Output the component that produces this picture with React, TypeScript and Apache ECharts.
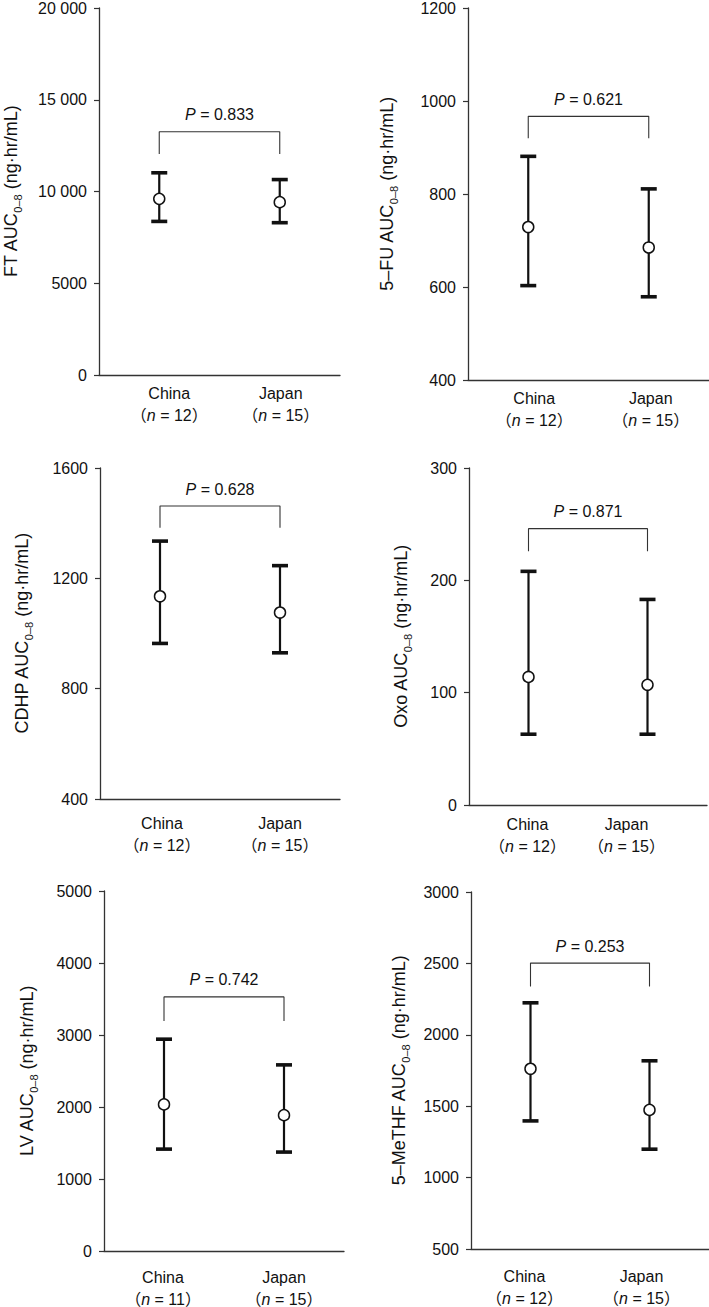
import React, { useEffect, useRef } from "react";
import * as echarts from "echarts";

// ---------- data ----------
const categories = ["China", "Japan"];
const analytes = ["FT", "5–FU", "CDHP", "Oxo", "LV", "5–MeTHF"];
const nChina = [12, 12, 12, 12, 11, 12];
const nJapan = [15, 15, 15, 15, 15, 15];
const meanChina = [9600, 729, 1135, 114, 2036, 1762];
const meanJapan = [9420, 685, 1076, 107, 1887, 1474];
const upperChina = [11020, 881, 1335, 208, 2942, 2224];
const upperJapan = [10650, 811, 1246, 183, 2585, 1818];
const lowerChina = [8370, 603, 964, 63, 1415, 1397];
const lowerJapan = [8300, 579, 930, 63, 1374, 1199];
const pValues = ["0.833", "0.621", "0.628", "0.871", "0.742", "0.253"];
const bracketTop = [13260, 967, 1462, 246, 3529, 2502];
const bracketFoot = [12050, 920, 1383, 226, 3196, 2338];
const yMin = [0, 400, 400, 0, 0, 500];
const yMax = [20000, 1200, 1600, 300, 5000, 3000];
const yInterval = [5000, 200, 400, 100, 1000, 500];

// ---------- layout ----------
const grids = [
  { left: 99, top: 7, width: 241, height: 368 },
  { left: 468, top: 7, width: 241, height: 373 },
  { left: 100, top: 468, width: 240, height: 331 },
  { left: 469, top: 468, width: 238, height: 337 },
  { left: 104, top: 891, width: 240, height: 360 },
  { left: 471, top: 892, width: 238, height: 357 },
];
const nameGaps = [79, 72, 69, 59, 68, 63];
const xLabelMargins = [7, 7, 13, 8, 15, 16];
const labelShift = [
  [10, 1],
  [6, 2],
  [2, 0],
  [-1, -21],
  [-1, 0],
  [-6, -8],
];

const FONT = '"Liberation Sans", Arial, "Noto Sans CJK JP", sans-serif';
const INK = "#111";

function fmtTick(v: number) {
  if (v >= 10000) {
    const s = String(v);
    return s.slice(0, s.length - 3) + " " + s.slice(s.length - 3);
  }
  return String(v);
}

export default function App() {
  const ref = useRef<HTMLDivElement>(null);

  useEffect(() => {
    if (!ref.current) return;
    const chart = echarts.init(ref.current, undefined, { renderer: "svg" });

    const grid: any[] = [];
    const xAxis: any[] = [];
    const yAxis: any[] = [];
    const series: any[] = [];

    for (let i = 0; i < 6; i++) {
      grid.push({ ...grids[i], containLabel: false });
      const ns = [nChina[i], nJapan[i]];
      // visible category axis (labels + axis line)
      xAxis.push({
        type: "category",
        gridIndex: i,
        data: categories.map((c, k) => {
          const s = labelShift[i][k];
          const pad = s >= 0 ? [0, 0, 0, 2 * s] : [0, -2 * s, 0, 0];
          return { value: c, textStyle: { padding: pad } };
        }),
        boundaryGap: true,
        axisTick: { show: false },
        axisLine: { onZero: false, lineStyle: { color: "#333", width: 1.3 } },
        axisLabel: {
          margin: xLabelMargins[i],
          interval: 0,
          formatter: (v: string, idx: number) =>
            `{a|${v}}\n{b|（}{i|n}{b| = ${ns[idx]}）}`,
          rich: {
            a: { fontFamily: FONT, fontSize: 16, color: INK, lineHeight: 22 },
            b: { fontFamily: FONT, fontSize: 16, color: INK, lineHeight: 22 },
            i: { fontFamily: FONT, fontSize: 16, color: INK, lineHeight: 22, fontStyle: "italic" },
          },
        },
      });
      // hidden value axis aligned with the category bands (China = 0, Japan = 1)
      xAxis.push({
        type: "value",
        gridIndex: i,
        min: -0.5,
        max: 1.5,
        show: false,
        axisLine: { onZero: false },
        splitLine: { show: false },
      });
      yAxis.push({
        type: "value",
        gridIndex: i,
        min: yMin[i],
        max: yMax[i],
        interval: yInterval[i],
        splitLine: { show: false },
        axisLine: { show: true, onZero: false, lineStyle: { color: "#333", width: 1.3 } },
        axisTick: { show: true, length: 5, lineStyle: { color: "#333", width: 1.2 } },
        axisLabel: {
          margin: 12,
          fontFamily: FONT,
          fontSize: 16,
          color: INK,
          formatter: (v: number) => fmtTick(v),
        },
        name: `{a|${analytes[i]} AUC}{s|0–8}{a| (ng·hr/mL)}`,
        nameLocation: "middle",
        nameGap: nameGaps[i],
        nameTextStyle: {
          rich: {
            a: { fontFamily: FONT, fontSize: 18, color: INK, lineHeight: 20, verticalAlign: "bottom" },
            s: { fontFamily: FONT, fontSize: 11, color: INK, lineHeight: 20, verticalAlign: "bottom", padding: [0, 0, -3, 0] },
          },
        },
      });

      const xi = 2 * i + 1;
      // error bars
      series.push({
        type: "custom",
        xAxisIndex: xi,
        yAxisIndex: i,
        z: 2,
        data: [
          [0, lowerChina[i], upperChina[i]],
          [1, lowerJapan[i], upperJapan[i]],
        ],
        encode: { x: 0, y: [1, 2] },
        renderItem: (params: any, api: any) => {
          const x = api.value(0);
          const lo = api.coord([x, api.value(1)]);
          const hi = api.coord([x, api.value(2)]);
          const half = 8;
          return {
            type: "group",
            children: [
              { type: "line", shape: { x1: lo[0], y1: lo[1], x2: hi[0], y2: hi[1] }, style: { stroke: INK, lineWidth: 2.2 } },
              { type: "line", shape: { x1: hi[0] - half, y1: hi[1], x2: hi[0] + half, y2: hi[1] }, style: { stroke: INK, lineWidth: 3.6 } },
              { type: "line", shape: { x1: lo[0] - half, y1: lo[1], x2: lo[0] + half, y2: lo[1] }, style: { stroke: INK, lineWidth: 3.6 } },
            ],
          };
        },
      });
      // means
      series.push({
        type: "scatter",
        xAxisIndex: xi,
        yAxisIndex: i,
        z: 5,
        symbol: "circle",
        symbolSize: 11,
        itemStyle: { color: "#fff", borderColor: INK, borderWidth: 1.5, opacity: 1 },
        data: [
          [0, meanChina[i]],
          [1, meanJapan[i]],
        ],
      });
      // bracket
      series.push({
        type: "line",
        xAxisIndex: xi,
        yAxisIndex: i,
        z: 3,
        symbol: "none",
        lineStyle: { color: "#333", width: 1.1 },
        data: [
          [0, bracketFoot[i]],
          [0, bracketTop[i]],
          [1, bracketTop[i]],
          [1, bracketFoot[i]],
        ],
      });
      // P label
      series.push({
        type: "scatter",
        xAxisIndex: xi,
        yAxisIndex: i,
        symbolSize: 0,
        z: 4,
        itemStyle: { opacity: 1, color: INK },
        data: [[0.5, bracketTop[i]]],
        label: {
          show: true,
          position: "top",
          distance: 9,
          opacity: 1,
          formatter: `{i|P}{b| = ${pValues[i]}}`,
          rich: {
            i: { fontFamily: FONT, fontSize: 16, color: INK, fontStyle: "italic" },
            b: { fontFamily: FONT, fontSize: 16, color: INK },
          },
        },
      });
    }

    chart.setOption({
      animation: false,
      backgroundColor: "#fff",
      grid,
      xAxis,
      yAxis,
      series,
    });

    return () => chart.dispose();
  }, []);

  return (
    <div
      ref={ref}
      style={{ position: "absolute", left: 0, top: 0, width: 709, height: 1307 }}
    />
  );
}
